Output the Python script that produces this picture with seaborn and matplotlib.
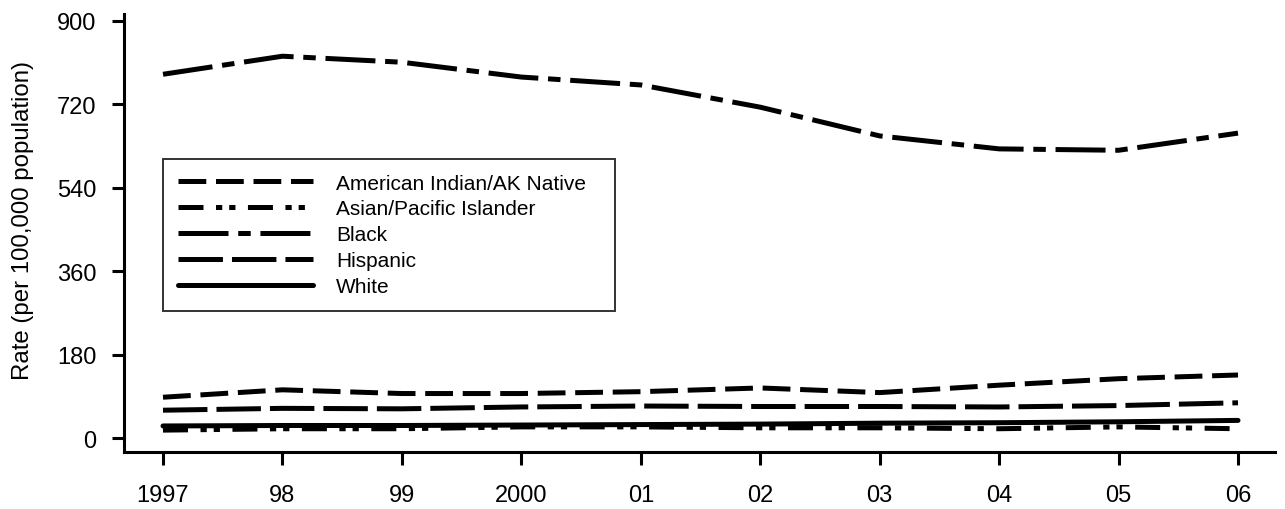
import pandas as pd
import matplotlib
matplotlib.use("Agg")
import matplotlib.pyplot as plt
import seaborn as sns

years = [1997, 1998, 1999, 2000, 2001, 2002, 2003, 2004, 2005, 2006]
tick_labels = ["1997", "98", "99", "2000", "01", "02", "03", "04", "05", "06"]

american_indian = [88, 104, 96, 96, 100, 108, 98, 114, 128, 136]
asian_pacific = [17, 20, 20, 24, 24, 22, 22, 20, 24, 20]
black = [785, 824, 811, 779, 762, 714, 652, 624, 621, 658]
hispanic = [60, 64, 63, 67, 69, 68, 68, 67, 70, 76]
white = [26, 27, 27, 28, 29, 30, 32, 33, 35, 38]

groups = ["American Indian/AK Native", "Asian/Pacific Islander", "Black", "Hispanic", "White"]
series = [american_indian, asian_pacific, black, hispanic, white]

rows = []
for g, vals in zip(groups, series):
    for y, v in zip(years, vals):
        rows.append({"year": y, "rate": v, "group": g})
data = pd.DataFrame(rows)

sns.set_style("white")
plt.rcParams["font.family"] = ["Liberation Sans", "DejaVu Sans"]
plt.rcParams["lines.scale_dashes"] = False
plt.rcParams["text.color"] = "black"
plt.rcParams["axes.labelcolor"] = "black"

# dash patterns in points
dash_styles = {
    "American Indian/AK Native": (20, 7),
    "Asian/Pacific Islander": (18, 9, 4.5, 5, 4.5, 9),
    "Black": (36, 7, 9, 7),
    "Hispanic": (32, 6.5),
    "White": "",
}

fig = plt.figure(figsize=(12.85, 5.10), dpi=100)
ax = fig.add_axes([124 / 1285, (510 - 453) / 510, (1275 - 124) / 1285, (453 - 15) / 510])

sns.lineplot(data=data, x="year", y="rate", style="group", style_order=groups,
             dashes=dash_styles, color="black", linewidth=3.6, ax=ax, legend="full")

ax.set_xlim(1997 - 39 / 119.44, 2006 + 37 / 119.44)
ax.set_ylim(-30.2, 915.1)
ax.set_xticks(years)
ax.set_xticklabels(tick_labels)
ax.set_yticks([0, 180, 360, 540, 720, 900])
ax.set_xlabel("")
ax.set_ylabel("Rate (per 100,000 population)", fontsize=17.3)
ax.yaxis.set_label_coords(-0.078, 0.53)

for side in ["top", "right"]:
    ax.spines[side].set_visible(False)
for side in ["left", "bottom"]:
    ax.spines[side].set_linewidth(2.2)
    ax.spines[side].set_color("black")
ax.tick_params(axis="both", which="major", direction="out", length=9, width=2.2,
               labelsize=17, color="black", labelcolor="black",
               left=True, bottom=True)
ax.tick_params(axis="x", pad=14)
ax.tick_params(axis="y", pad=11)

handles, labels = ax.get_legend_handles_labels()
for h in handles:
    h.set_linewidth(3.6)
leg = ax.legend(handles, labels, loc="upper left",
                bbox_to_anchor=(0.0339, 0.333, 0.3927, 0.336), mode="expand",
                fontsize=15, handlelength=6.5, handletextpad=1.1,
                labelspacing=0.33, borderpad=0.7, borderaxespad=0,
                frameon=True, fancybox=False, edgecolor="black")
leg.get_frame().set_linewidth(1.4)

fig.savefig("out.png", dpi=100)
